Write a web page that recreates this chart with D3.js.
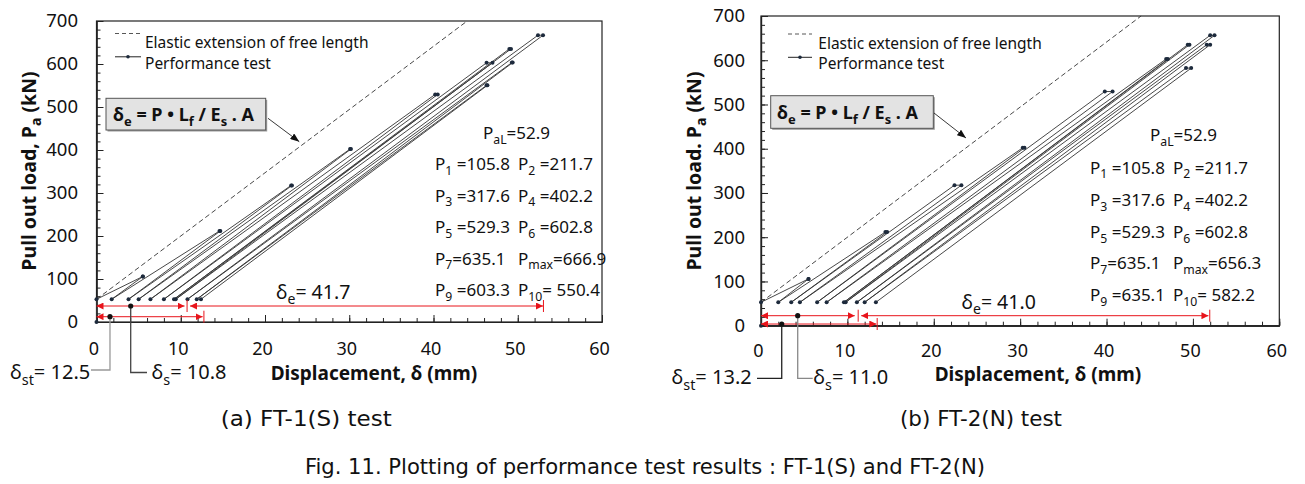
<!DOCTYPE html>
<html><head><meta charset="utf-8">
<script src="https://cdn.jsdelivr.net/npm/d3@7"></script>
<style>
body{margin:0;background:#fff;}
svg{display:block;}
text{font-family:"Noto Sans","Open Sans",sans-serif;fill:#111;}
</style>
</head><body>
<svg id="chart" width="1305" height="484"></svg>
<script>
// ---------- data ----------
const xTickValues = [0, 10, 20, 30, 40, 50, 60];
const yTickValues = [0, 100, 200, 300, 400, 500, 600, 700];
const PaL = 52.9;                       // design load at start of each cycle (kN)
const loadNames = ["1","2","3","4","5","6","7","max","9","10"];

// elastic extension of free length (dashed reference line)
const elasticDisp = [0, 44.0];
const elasticLoad = [52.9, 700];

// (a) FT-1(S)
const loadsA  = [105.8, 211.7, 317.6, 402.2, 529.3, 602.8, 635.1, 666.9, 603.3, 550.4];
const startsA = [0, 1.8, 3.8, 5.0, 6.4, 8.0, 9.2, 9.4, 10.8, 11.9, 12.4];   // displacement at PaL before each cycle + final residual
const peakA1  = [5.5, 14.6, 23.1, 30.1, 40.2, 46.3, 49.0, 52.4, 49.3, 46.3]; // displacement on reaching peak
const peakA2  = [5.5, 14.7, 23.2, 30.2, 40.5, 47.0, 49.2, 53.0, 49.4, 46.4]; // displacement after holding peak
const deltaA  = {e: 41.7, s: 10.8, st: 12.5};

// (b) FT-2(N)
const loadsB  = [105.8, 211.7, 317.6, 402.2, 529.3, 602.8, 635.1, 656.3, 635.1, 582.2];
const startsB = [0, 2.0, 3.5, 4.5, 6.5, 7.6, 9.6, 9.8, 11.1, 12.0, 13.3];
const peakB1  = [5.5, 14.4, 22.4, 30.3, 39.8, 46.9, 49.4, 52.0, 51.6, 49.2];
const peakB2  = [5.5, 14.6, 23.2, 30.5, 40.7, 47.1, 49.6, 52.5, 52.0, 49.8];
const deltaB  = {e: 41.0, s: 11.0, st: 13.2};

const captionA = "(a) FT-1(S) test";
const captionB = "(b) FT-2(N) test";
const figCaption = "Fig. 11. Plotting of performance test results : FT-1(S) and FT-2(N)";

// ---------- layout ----------
const panels = [
  { loads: loadsA, starts: startsA, peak1: peakA1, peak2: peakA2, delta: deltaA,
    left: 96.5, right: 602, top: 21, bottom: 322,
    yTitle: ["Pull out load, P", "a", " (kN)"], yTitleX: 29, yTitleCY: 171,
    xTitleCX: 374, xTitleY: 380, xLabPad: 20.5, yLabPad: 18.5,
    legX: 115, legW: 26, legTextX: 145, legY: 33.5,
    box: [106, 98.3, 159.7, 31.7], boxTextX: 113, boxTextY: 120.5, boxArrow: [268, 118.3, 299.3, 141.7],
    annX1: 435, annX2: 518, annPaLX: 483, annRows: [133, 164, 195.5, 227, 258.5, 290],
    arrLow: {x0: 0, x1: 12.6, y: 12.3, tick: 12.75},
    arrS: {x0: 0, x1: 10.45, y: 37.2, tick: 10.75},
    arrE: {x0: 11.1, x1: 53.0, y: 37.2, tick: 53.05},
    eLabel: [276, 299],
    stDot: 1.6, sDot: 4.06,
    stLead: {yb: 370, xe: 91, tx: 10, ty: 379, col: "#999"},
    sLead: {yb: 372.5, xe: 147, tx: 151.5, ty: 379, col: "#444"}
  },
  { loads: loadsB, starts: startsB, peak1: peakB1, peak2: peakB2, delta: deltaB,
    left: 761, right: 1279.3, top: 16, bottom: 325.7,
    yTitle: ["Pull out load. P", "a", " (kN)"], yTitleX: 694, yTitleCY: 171,
    xTitleCX: 1038, xTitleY: 381, xLabPad: 18.5, yLabPad: 16,
    legX: 788, legW: 24, legTextX: 818.3, legY: 34,
    box: [770.7, 95.7, 162.6, 32.6], boxTextX: 777, boxTextY: 118.8, boxArrow: [934, 113, 966, 138],
    annX1: 1090, annX2: 1173, annPaLX: 1150, annRows: [135, 167.5, 200, 231.7, 263.3, 295],
    arrLow: {x0: 0, x1: 13.35, y: 3.8, tick: 13.45},
    arrS: {x0: 0, x1: 10.85, y: 22.6, tick: 11.25},
    arrE: {x0: 11.6, x1: 51.8, y: 22.6, tick: 51.95},
    eLabel: [961.5, 308.5],
    stDot: 2.4, sDot: 4.25,
    stLead: {yb: 378.3, xe: 757, tx: 671.5, ty: 384, col: "#222"},
    sLead: {yb: 378.3, xe: 812.7, tx: 813.3, ty: 384, col: "#888"}
  }
];

const svg = d3.select("#chart");
const defs = svg.append("defs");
function marker(id, color, w, h) {
  defs.append("marker").attr("id", id).attr("viewBox", `0 0 ${w} ${h}`)
    .attr("refX", w).attr("refY", h/2).attr("markerWidth", w).attr("markerHeight", h)
    .attr("markerUnits", "userSpaceOnUse").attr("orient", "auto-start-reverse")
    .append("path").attr("d", `M0,0L${w},${h/2}L0,${h}Z`).attr("fill", color);
}
marker("redHead", "#e8141b", 7, 7);
marker("blackHead", "#111", 9, 7);

// rich text: parts = [[text, isSub], ...]
function rich(g, x, y, parts, fs, weight, anchor) {
  const t = g.append("text").attr("x", x).attr("y", y).attr("font-size", fs)
    .attr("font-weight", weight || "normal").attr("text-anchor", anchor || "start");
  let shifted = false;
  const shift = fs * 0.28;
  parts.forEach(([s, sub]) => {
    const ts = t.append("tspan").text(s);
    if (sub) { ts.attr("font-size", fs * 0.72); if (!shifted) { ts.attr("dy", shift); shifted = true; } }
    else { ts.attr("font-size", fs); if (shifted) { ts.attr("dy", -shift); shifted = false; } }
  });
  return t;
}

panels.forEach(p => {
  const g = svg.append("g");
  const x = d3.scaleLinear().domain([0, 60]).range([p.left, p.right]);
  const y = d3.scaleLinear().domain([0, 700]).range([p.bottom, p.top]);

  // frame
  g.append("rect").attr("x", p.left).attr("y", p.top).attr("width", p.right - p.left)
    .attr("height", p.bottom - p.top).attr("fill", "none").attr("stroke", "#222").attr("stroke-width", 1.2);

  // minor ticks
  const xm = g.append("g").attr("transform", `translate(0,${p.bottom})`)
    .call(d3.axisBottom(x).tickValues(d3.range(0, 60.01, 2)).tickSize(-4).tickSizeOuter(0).tickFormat(""));
  const ym = g.append("g").attr("transform", `translate(${p.left},0)`)
    .call(d3.axisLeft(y).tickValues(d3.range(0, 700.01, 20)).tickSize(-4).tickSizeOuter(0).tickFormat(""));
  // major ticks + labels
  const xa = g.append("g").attr("transform", `translate(0,${p.bottom})`)
    .call(d3.axisBottom(x).tickValues(xTickValues).tickSize(-7).tickSizeOuter(0).tickPadding(p.xLabPad));
  const ya = g.append("g").attr("transform", `translate(${p.left},0)`)
    .call(d3.axisLeft(y).tickValues(yTickValues).tickSize(-7).tickSizeOuter(0).tickPadding(p.yLabPad));
  [xm, ym, xa, ya].forEach(a => {
    a.select(".domain").attr("stroke", "#222").attr("stroke-width", 1.2);
    a.selectAll(".tick line").attr("stroke", "#222");
  });
  xa.selectAll(".tick text").attr("font-size", 18).attr("fill", "#111").attr("dx", -3)
    .style("font-family", '"Noto Sans",sans-serif');
  ya.selectAll(".tick text").attr("font-size", 18.5).attr("fill", "#111")
    .style("font-family", '"Noto Sans",sans-serif');

  // axis titles
  const yt = g.append("g").attr("transform", `translate(${p.yTitleX},${p.yTitleCY}) rotate(-90)`);
  rich(yt, 0, 7, [[p.yTitle[0]], [p.yTitle[1], true], [p.yTitle[2]]], 19.5, "bold", "middle");
  g.append("text").attr("x", p.xTitleCX).attr("y", p.xTitleY).attr("text-anchor", "middle")
    .attr("font-size", 19).attr("font-weight", "bold").text("Displacement, δ (mm)");

  // elastic extension line
  const line = d3.line().x(d => x(d[0])).y(d => y(d[1]));
  g.append("path").datum(elasticDisp.map((d, i) => [d, elasticLoad[i]]))
    .attr("d", line).attr("fill", "none").attr("stroke", "#333").attr("stroke-width", 0.9)
    .attr("stroke-dasharray", "5,3");

  // performance test cycles
  const pts = [[0, 0], [p.starts[0], PaL]];
  p.loads.forEach((L, i) => {
    pts.push([p.peak1[i], L]);
    pts.push([p.peak2[i], L]);
    pts.push([p.starts[i + 1], PaL]);
  });
  g.append("path").datum(pts).attr("d", line).attr("fill", "none")
    .attr("stroke", "#333").attr("stroke-width", 0.9).attr("stroke-linejoin", "round");
  g.selectAll("circle.pt").data(pts).join("circle").attr("class", "pt")
    .attr("cx", d => x(d[0])).attr("cy", d => y(d[1])).attr("r", 2).attr("fill", "#1d2a3c");

  // legend
  g.append("line").attr("x1", p.legX).attr("x2", p.legX + p.legW).attr("y1", p.legY).attr("y2", p.legY)
    .attr("stroke", "#444").attr("stroke-width", 0.9).attr("stroke-dasharray", "4,3");
  g.append("text").attr("x", p.legTextX).attr("y", p.legY + 14.5).attr("font-size", 15.5)
    .text("Elastic extension of free length");
  g.append("line").attr("x1", p.legX).attr("x2", p.legX + p.legW).attr("y1", p.legY + 23.3).attr("y2", p.legY + 23.3)
    .attr("stroke", "#222").attr("stroke-width", 1);
  g.append("circle").attr("cx", p.legX + p.legW / 2).attr("cy", p.legY + 23.3).attr("r", 1.8).attr("fill", "#1d2a3c");
  g.append("text").attr("x", p.legTextX).attr("y", p.legY + 35).attr("font-size", 15.5).text("Performance test");

  // formula box
  const [bx, by, bw, bh] = p.box;
  g.append("rect").attr("x", bx + 1.5).attr("y", by + 1.5).attr("width", bw).attr("height", bh).attr("fill", "#9a9a9a");
  g.append("rect").attr("x", bx).attr("y", by).attr("width", bw).attr("height", bh)
    .attr("fill", "#e3e3e3").attr("stroke", "#555").attr("stroke-width", 1);
  rich(g, p.boxTextX, p.boxTextY,
    [["δ"], ["e", true], [" = P • L"], ["f", true], [" / E"], ["s", true], [" . A"]], 18, "bold");
  const ba = p.boxArrow;
  g.append("line").attr("x1", ba[0]).attr("y1", ba[1]).attr("x2", ba[2]).attr("y2", ba[3])
    .attr("stroke", "#222").attr("stroke-width", 0.9).attr("marker-end", "url(#blackHead)");

  // load annotations
  const fsA = 17, cap = fsA * 0.36;
  rich(g, p.annPaLX, p.annRows[0] + cap, [["P"], ["aL", true], ["=" + PaL.toFixed(1)]], fsA);
  p.loads.forEach((L, i) => {
    const row = Math.floor(i / 2) + 1, col = i % 2;
    const nm = loadNames[i];
    const sep = nm === "max" ? "=" : (nm === "10" ? "= " : (nm === "7" ? "=" : " ="));
    rich(g, col ? p.annX2 : p.annX1, p.annRows[row] + cap,
      [["P"], [nm, true], [sep + L.toFixed(1)]], fsA);
  });

  // red dimension arrows
  const red = "#e8141b";
  [p.arrLow, p.arrS, p.arrE].forEach(a => {
    g.append("line").attr("x1", x(a.x0)).attr("x2", x(a.x1)).attr("y1", y(a.y)).attr("y2", y(a.y))
      .attr("stroke", red).attr("stroke-width", 1)
      .attr("marker-start", "url(#redHead)").attr("marker-end", "url(#redHead)");
    g.append("line").attr("x1", x(a.tick)).attr("x2", x(a.tick)).attr("y1", y(a.y) - 6).attr("y2", y(a.y) + 6)
      .attr("stroke", red).attr("stroke-width", 1);
  });
  rich(g, p.eLabel[0], p.eLabel[1], [["δ"], ["e", true], ["= " + p.delta.e.toFixed(1)]], 19.5);

  // leader lines to δst and δs
  const stx = x(p.stDot), sty = y(p.arrLow.y);
  g.append("polyline").attr("points", `${stx},${sty} ${stx},${p.stLead.yb} ${p.stLead.xe},${p.stLead.yb}`)
    .attr("fill", "none").attr("stroke", p.stLead.col).attr("stroke-width", 1.3);
  g.append("circle").attr("cx", stx).attr("cy", sty).attr("r", 2.6).attr("fill", "#111");
  const sx = x(p.sDot), sy = y(p.arrS.y);
  g.append("polyline").attr("points", `${sx},${sy} ${sx},${p.sLead.yb} ${p.sLead.xe},${p.sLead.yb}`)
    .attr("fill", "none").attr("stroke", p.sLead.col).attr("stroke-width", 1.3);
  g.append("circle").attr("cx", sx).attr("cy", sy).attr("r", 2.6).attr("fill", "#111");
  rich(g, p.stLead.tx, p.stLead.ty, [["δ"], ["st", true], ["= " + p.delta.st.toFixed(1)]], 20);
  rich(g, p.sLead.tx, p.sLead.ty, [["δ"], ["s", true], ["= " + p.delta.s.toFixed(1)]], 20);
});

// captions
const capFont = '"Liberation Sans Narrow","DejaVu Sans Condensed","Noto Sans",sans-serif';
[[captionA, 220.7, 426, 171], [captionB, 900, 426, 162], [figCaption, 305, 473.5, 680]].forEach(([s, cx, cy, w]) => {
  svg.append("text").attr("x", cx).attr("y", cy).attr("font-size", 22)
    .style("font-family", capFont).attr("textLength", w).attr("lengthAdjust", "spacingAndGlyphs").text(s);
});
</script>
</body></html>
